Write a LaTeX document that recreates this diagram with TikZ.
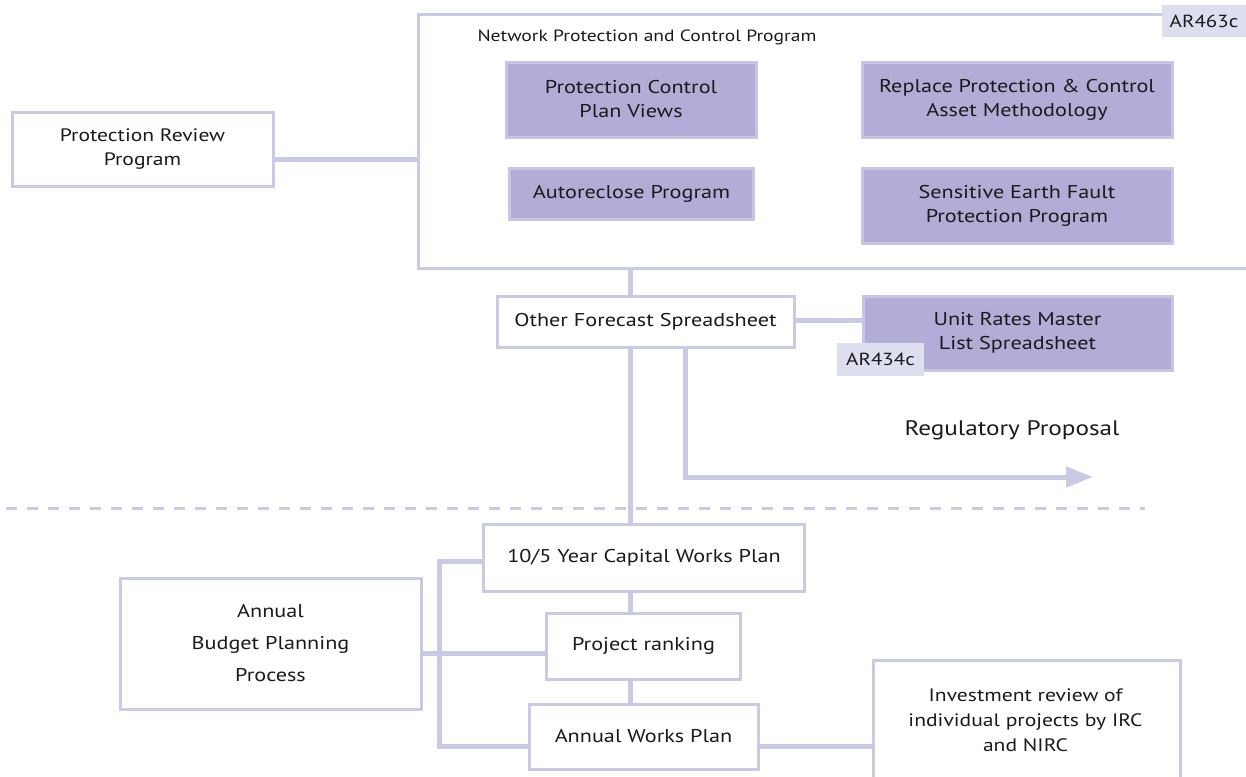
\documentclass[tikz,border=0pt]{standalone}
\usepackage{fontspec}
\setmainfont{PT Sans}[FakeStretch=1.2]
\usetikzlibrary{arrows.meta}
\definecolor{lav}{HTML}{C9CAE6}
\definecolor{purp}{HTML}{B1ADD6}
\definecolor{purpedge}{HTML}{C7C4E4}
\definecolor{tagfill}{HTML}{DDDFF0}
\definecolor{ink}{HTML}{1A1A1A}
\begin{document}
\begin{tikzpicture}[x=1pt,y=-1pt,
  every node/.style={text=ink},
  box/.style={draw=lav,line width=3pt,fill=white,inner sep=0pt,align=center,
    font=\fontsize{18.5}{24}\selectfont},
  pbox/.style={draw=purpedge,line width=3pt,fill=purp,inner sep=0pt,align=center,
    font=\fontsize{18.5}{24}\selectfont},
  tag/.style={fill=tagfill,inner sep=0pt,font=\fontsize{17.5}{18}\selectfont},
  link/.style={draw=lav,line width=5pt},
  arrowlink/.style={link,-{Triangle[width=20pt,length=27pt]}},
  sep/.style={draw=lav,line width=3pt,dash pattern=on 11pt off 10pt}
]
\useasboundingbox (0,0) rectangle (1246,776);
\clip (0,0) rectangle (1246,776);

% separator between forecast and delivery stages
\coordinate (sepL) at (6,508);
\coordinate (sepR) at (1145,508);
\draw[sep] (sepL) -- (sepR);

% program container (open to the right)
\node[draw=lav,line width=3pt,minimum width=852pt,minimum height=253pt,inner sep=0pt]
  (npc) at (844,141.5) {};
\node[anchor=west,font=\fontsize{16.3}{18}\selectfont] (npctitle) at (474,37)
  {Network Protection and Control Program};
\node[tag,minimum width=84pt,minimum height=32pt] (tagA) at (1204,21) {AR463c};

\node[pbox,minimum width=250pt,minimum height=75pt] (pcpv) at (631,99.5)
  {Protection Control\\ Plan Views};
\node[pbox,minimum width=310pt,minimum height=75pt] (rpc) at (1017,99.5)
  {Replace Protection \& Control\\ Asset Methodology};
\node[pbox,minimum width=244pt,minimum height=51pt] (arp) at (631.5,193.5)
  {Autoreclose Program};
\node[pbox,minimum width=310pt,minimum height=75pt] (sef) at (1017,205.5)
  {Sensitive Earth Fault\\ Protection Program};

% review program feeding the container
\node[box,minimum width=261pt,minimum height=74pt,font=\fontsize{18}{24}\selectfont]
  (prp) at (142.5,149) {Protection Review\\ Program};

% forecasting
\node[box,minimum width=297pt,minimum height=51pt] (ofs) at (645.5,321.5)
  {Other Forecast Spreadsheet};
\node[pbox,minimum width=309pt,minimum height=74pt] (urm) at (1017.5,333)
  {Unit Rates Master\\ List Spreadsheet};
\node[tag,minimum width=87pt,minimum height=33pt] (tagB) at (880.5,359.5) {AR434c};
\node[font=\fontsize{21}{24}\selectfont] (reg) at (1012,430) {Regulatory Proposal};
\coordinate (regend) at (1093,477);

% delivery planning
\node[box,minimum width=321pt,minimum height=67pt] (cwp) at (644,558)
  {10/5 Year Capital Works Plan};
\node[box,minimum width=194pt,minimum height=66pt] (rank) at (643.5,646)
  {Project ranking};
\node[box,minimum width=229pt,minimum height=65pt] (awp) at (643.5,736.5)
  {Annual Works Plan};
\node[box,minimum width=301pt,minimum height=131pt,font=\fontsize{18.5}{32}\selectfont]
  (abp) at (270.5,643.5) {Annual\\ Budget Planning\\ Process};
\node[box,minimum width=307pt,minimum height=150pt,anchor=north west] (inv) at (872,659) {};
\node[align=center,font=\fontsize{18}{25}\selectfont] (invtext) at (1025.5,720)
  {Investment review of\\ individual projects by IRC\\ and NIRC};

% spine and bracket positions
\coordinate (spine) at (630,0);
\coordinate (bracket) at (439,0);
\coordinate (rpx) at (685,0);

% connectors
\draw[link] (prp.east |- 0,159) -- (npc.west |- 0,159);
\draw[link] (npc.south -| spine) -- (ofs.north -| spine);
\draw[link] (ofs.east |- 0,320) -- (urm.west |- 0,320);
\draw[link] (ofs.south -| spine) -- (cwp.north -| spine);
\draw[arrowlink] (ofs.south -| rpx) |- (regend);
\draw[link] (cwp.south -| spine) -- (rank.north -| spine);
\draw[link] (rank.south -| spine) -- (awp.north -| spine);
\draw[link] (cwp.west |- 0,561) -| (bracket |- 0,746) -- (awp.west |- 0,746);
\draw[link] (abp.east |- 0,653) -- (rank.west |- 0,653);
\draw[link] (awp.east |- 0,746) -- (inv.west |- 0,746);
\end{tikzpicture}
\end{document}
